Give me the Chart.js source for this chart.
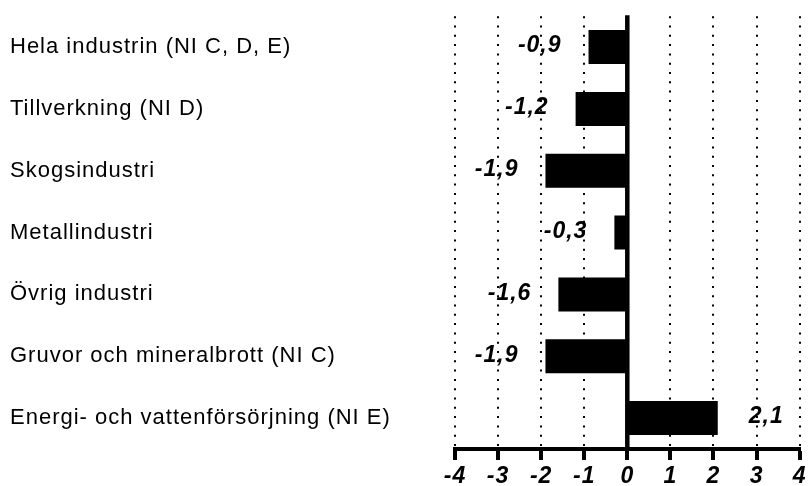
<!DOCTYPE html>
<html>
<head>
<meta charset="utf-8">
<script src="https://cdn.jsdelivr.net/npm/chart.js@4/dist/chart.umd.min.js"></script>
<style>
  html, body { margin: 0; padding: 0; background: #fff; }
  canvas { display: block; }
</style>
</head>
<body>
<canvas id="c" width="809" height="486"></canvas>
<script>
const categories = [
  'Hela industrin (NI C, D, E)',
  'Tillverkning (NI D)',
  'Skogsindustri',
  'Metallindustri',
  'Övrig industri',
  'Gruvor och mineralbrott (NI C)',
  'Energi- och vattenförsörjning (NI E)'
];
const values = [-0.9, -1.2, -1.9, -0.3, -1.6, -1.9, 2.1];
const tickLabels = ['-4', '-3', '-2', '-1', '0', '1', '2', '3', '4'];

const FONT = '"Liberation Sans", Arial, Helvetica, sans-serif';

const spacingPlugin = {
  id: 'spacing',
  beforeDraw(chart) {
    chart.ctx.letterSpacing = '1px';
  }
};

const zeroLinePlugin = {
  id: 'zeroLine',
  afterDatasetsDraw(chart) {
    const {ctx, chartArea, scales} = chart;
    const x = scales.x.getPixelForValue(0);
    ctx.save();
    ctx.strokeStyle = '#000';
    ctx.lineWidth = 4.5;
    ctx.setLineDash([]);
    ctx.beginPath();
    ctx.moveTo(x, chartArea.top - 1);
    ctx.lineTo(x, chartArea.bottom);
    ctx.stroke();
    ctx.restore();
  }
};

const valueLabelPlugin = {
  id: 'valueLabels',
  afterDatasetsDraw(chart) {
    const {ctx} = chart;
    const meta = chart.getDatasetMeta(0);
    ctx.save();
    ctx.font = 'italic bold 23px ' + FONT;
    ctx.fillStyle = '#000';
    ctx.textBaseline = 'middle';
    meta.data.forEach((bar, i) => {
      const v = values[i];
      const txt = v.toFixed(1).replace('.', ',');
      if (v < 0) {
        ctx.textAlign = 'right';
        ctx.fillText(txt, bar.x - 27, bar.y - 1);
      } else {
        ctx.textAlign = 'left';
        ctx.fillText(txt, bar.x + 31, bar.y - 1);
      }
    });
    ctx.restore();
  }
};

new Chart(document.getElementById('c'), {
  type: 'bar',
  data: {
    labels: categories,
    datasets: [{
      data: values,
      backgroundColor: '#000',
      borderWidth: 0,
      barPercentage: 0.55,
      categoryPercentage: 1
    }]
  },
  options: {
    indexAxis: 'y',
    responsive: false,
    animation: false,
    layout: { padding: { left: 10, right: 9, top: 14, bottom: 0 } },
    plugins: { legend: { display: false }, tooltip: { enabled: false } },
    scales: {
      x: {
        type: 'linear',
        min: -4,
        max: 4,
        ticks: {
          stepSize: 1,
          padding: 3,
          color: '#000',
          font: { family: FONT, size: 23, style: 'italic', weight: 'bold' },
          callback: (v, i) => tickLabels[i]
        },
        grid: {
          color: '#000',
          lineWidth: 2,
          drawTicks: true,
          tickLength: 11,
          tickColor: '#000',
          tickWidth: 4,
          tickBorderDash: []
        },
        border: { display: true, color: '#000', width: 4, dash: [2, 7.3] },
        afterFit(scale) { scale.height = 37; }
      },
      y: {
        type: 'category',
        ticks: {
          crossAlign: 'far',
          color: '#000',
          font: { family: FONT, size: 22 }
        },
        grid: { display: false },
        border: { display: false },
        afterFit(scale) { scale.width = 445; }
      }
    }
  },
  plugins: [spacingPlugin, zeroLinePlugin, valueLabelPlugin]
});
</script>
</body>
</html>
